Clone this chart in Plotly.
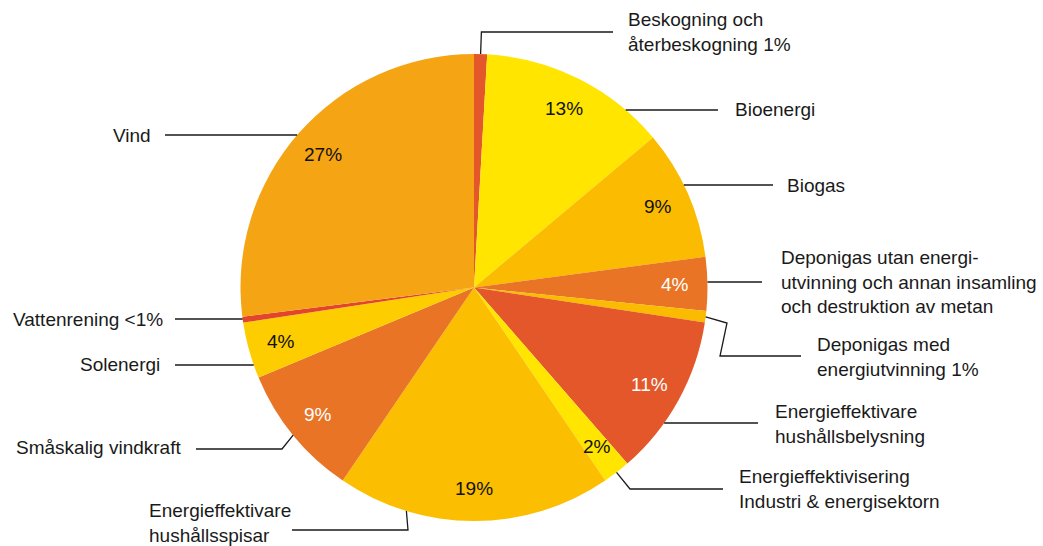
import math
import plotly.graph_objects as go

# ---------------- data ----------------
categories = [
    "Beskogning och återbeskogning",
    "Bioenergi",
    "Biogas",
    "Deponigas utan energiutvinning och annan insamling och destruktion av metan",
    "Deponigas med energiutvinning",
    "Energieffektivare hushållsbelysning",
    "Energieffektivisering Industri & energisektorn",
    "Energieffektivare hushållsspisar",
    "Småskalig vindkraft",
    "Solenergi",
    "Vattenrening",
    "Vind",
]
values = [0.9, 13.0, 9.0, 3.7, 0.8, 11.2, 1.9, 19.0, 9.2, 3.9, 0.4, 27.0]
inside_labels = ["", "13%", "9%", "4%", "", "11%", "2%", "19%", "9%", "4%", "", "27%"]
outside_labels = [
    "Beskogning och<br>återbeskogning 1%",
    "Bioenergi",
    "Biogas",
    "Deponigas utan energi-<br>utvinning och annan insamling<br>och destruktion av metan",
    "Deponigas med<br>energiutvinning 1%",
    "Energieffektivare<br>hushållsbelysning",
    "Energieffektivisering<br>Industri & energisektorn",
    "Energieffektivare<br>hushållsspisar",
    "Småskalig vindkraft",
    "Solenergi",
    "Vattenrening <1%",
    "Vind",
]

# ---------------- style / layout ----------------
colors = ["#E4572A", "#FFE500", "#FBBB00", "#E97426", "#FBBB00", "#E4572A",
          "#FFE500", "#FBBE00", "#E97426", "#FDCD00", "#E3452B", "#F5A414"]
inside_text_colors = ["#000", "#111", "#111", "#fff", "#111", "#fff",
                      "#111", "#111", "#fff", "#111", "#111", "#111"]

W, H = 1043, 546
CX, CY, R = 474, 287.5, 233.5
FONT = "Liberation Sans"
FS = 19
LINE_COLOR = "#1a1a1a"


def px(x):
    return x / W


def py(y):
    return 1 - y / H


def edge_at_y(y, side):
    dy = y - CY
    return CX + side * math.sqrt(max(R * R - dy * dy, 0.0))


def edge_at_angle(a):
    r = math.radians(a)
    return CX + R * math.sin(r), CY - R * math.cos(r)


total = sum(values)
mids = []
acc = 0.0
for v in values:
    mids.append((acc + v / 2) / total * 360.0)
    acc += v

# leader definitions (layout only): start + bend points, label position
# start: ("mid",) -> circle edge at slice mid-angle ; ("y", y, side) -> circle edge at height y
leaders = [
    dict(start=("mid",), pts=[("sx", 32), (613, 32)], label=(626, 32, "left")),
    dict(start=("y", 110, 1), pts=[(718, 110)], label=(733, 110, "left")),
    dict(start=("y", 185, 1), pts=[(773, 185)], label=(785, 185, "left")),
    dict(start=("y", 282, 1), pts=[(762, 282)], label=(779, 282, "left")),
    dict(start=("mid",), pts=[(727, 323), (720, 356), (801, 356)], label=(815, 357, "left")),
    dict(start=("y", 423, 1), pts=[(758, 423)], label=(773, 423.5, "left")),
    dict(start=("mid",), pts=[(630, 489), (723, 489)], label=(737, 489, "left")),
    dict(start=("y", 511, -1), pts=[(408, 530), (292, 530)], label=(147, 523, "left")),
    dict(start=("mid",), pts=[(282, 449), (196, 449)], label=(183, 447, "right")),
    dict(start=("y", 365, -1), pts=[(175, 365)], label=(162, 364, "right")),
    dict(start=("y", 319, -1), pts=[(175, 319)], label=(165, 319, "right")),
    dict(start=("y", 135, -1), pts=[(165, 135)], label=(153, 135, "right")),
]

fig = go.Figure()
fig.add_trace(go.Pie(
    values=values,
    labels=categories,
    sort=False,
    direction="clockwise",
    rotation=0,
    marker=dict(colors=colors, line=dict(width=0)),
    textinfo="none",
    hoverinfo="label+percent",
    showlegend=False,
    domain=dict(x=[px(CX - R), px(CX + R)], y=[py(CY + R), py(CY - R)]),
))

annotations = []
shapes = []

# inside percentage labels
for i, t in enumerate(inside_labels):
    if not t:
        continue
    r = 0.86 * R
    a = math.radians(mids[i])
    x = CX + r * math.sin(a)
    y = CY - r * math.cos(a)
    annotations.append(dict(
        x=px(x), y=py(y), xref="paper", yref="paper", text=t, showarrow=False,
        xanchor="center", yanchor="middle",
        font=dict(family=FONT, size=FS, color=inside_text_colors[i]),
    ))

# outside labels and leader lines
for i, ld in enumerate(leaders):
    if ld["start"][0] == "mid":
        sx, sy = edge_at_angle(mids[i])
    else:
        sy = ld["start"][1]
        sx = edge_at_y(sy, ld["start"][2])
    points = [(sx, sy)]
    for (x, y) in ld["pts"]:
        points.append((sx + 0.8 if x == "sx" else x, y))
    path = "M " + " L ".join(f"{px(x):.5f},{py(y):.5f}" for x, y in points)
    shapes.append(dict(type="path", path=path, xref="paper", yref="paper",
                       line=dict(color=LINE_COLOR, width=1.3)))
    lx, ly, anchor = ld["label"]
    annotations.append(dict(
        x=px(lx), y=py(ly), xref="paper", yref="paper", text=outside_labels[i],
        showarrow=False, xanchor=anchor, yanchor="middle", align="left",
        font=dict(family=FONT, size=FS, color="#1a1a1a"),
    ))

fig.update_layout(
    width=W, height=H, autosize=False,
    margin=dict(l=0, r=0, t=0, b=0),
    paper_bgcolor="white", plot_bgcolor="white",
    annotations=annotations, shapes=shapes,
)

fig.write_html("out.html", config={"displayModeBar": False},
               post_script="document.body.style.margin='0';")
